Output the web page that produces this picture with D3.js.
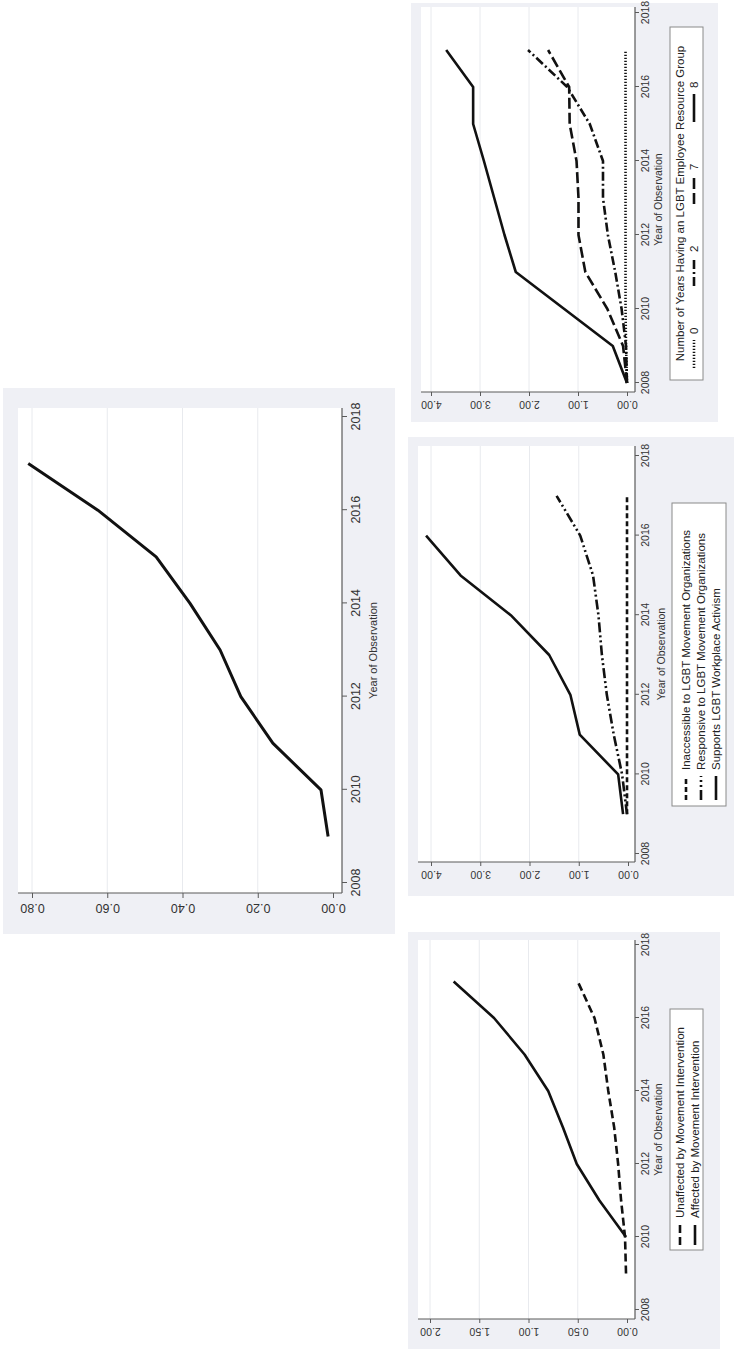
<!DOCTYPE html>
<html>
<head>
<meta charset="utf-8">
<script src="https://cdn.jsdelivr.net/npm/d3@7"></script>
<style>
  html, body { margin: 0; padding: 0; background: #ffffff; }
  svg { display: block; }
</style>
</head>
<body>
<svg id="chart" width="736" height="1354"></svg>
<script>
// ---- data ---------------------------------------------------------------
const yearTicks = [2008, 2010, 2012, 2014, 2016, 2018];

// Panel A: single trend
const yearsA = [2009, 2010, 2011, 2012, 2013, 2014, 2015, 2016, 2017];
const shareA = [0.013, 0.032, 0.16, 0.245, 0.30, 0.38, 0.47, 0.625, 0.81];
const ticksA = [0, 0.2, 0.4, 0.6, 0.8];

// Panel B: years having an LGBT employee resource group
const yearsB = [2008, 2009, 2010, 2011, 2012, 2013, 2014, 2015, 2016, 2017];
const ergTitle = "Number of Years Having an LGBT Employee Resource Group";
const ergLabels = ["0", "2", "7", "8"];
const erg0 = [0, 0.02, 0.03, 0.03, 0.03, 0.03, 0.03, 0.03, 0.03, 0.03];
const erg2 = [0, 0.02, 0.11, 0.24, 0.39, 0.49, 0.49, 0.76, 1.22, 2.02];
const erg7 = [0, 0.08, 0.40, 0.85, 0.99, 0.99, 1.03, 1.17, 1.18, 1.61];
const erg8 = [0, 0.29, 1.28, 2.27, 2.50, 2.71, 2.92, 3.14, 3.14, 3.69];
const ticksB = [0, 1, 2, 3, 4];

// Panel C: relation to LGBT movement organizations
const yearsC = [2009, 2010, 2011, 2012, 2013, 2014, 2015, 2016, 2017];
const orgLabels = [
  "Inaccessible to LGBT Movement Organizations",
  "Responsive to LGBT Movement Organizations",
  "Supports LGBT Workplace Activism"
];
const inaccessible = [0.02, 0.02, 0.02, 0.02, 0.02, 0.02, 0.02, 0.02, 0.02];
const responsive = [0.02, 0.12, 0.29, 0.43, 0.53, 0.60, 0.71, 0.97, 1.45];
const supportsYears = [2009, 2010, 2011, 2012, 2013, 2014, 2015, 2016];
const supports = [0.10, 0.20, 0.98, 1.17, 1.60, 2.38, 3.40, 4.10];
const ticksC = [0, 1, 2, 3, 4];

// Panel D: movement intervention
const yearsD = [2009, 2010, 2011, 2012, 2013, 2014, 2015, 2016, 2017];
const interventionLabels = [
  "Unaffected by Movement Intervention",
  "Affected by Movement Intervention"
];
const unaffected = [0.01, 0.02, 0.06, 0.09, 0.13, 0.19, 0.24, 0.33, 0.50];
const affectedYears = [2010, 2011, 2012, 2013, 2014, 2015, 2016, 2017];
const affected = [0.01, 0.28, 0.51, 0.65, 0.80, 1.04, 1.35, 1.76];
const ticksD = [0, 0.5, 1, 1.5, 2];

// ---- drawing ------------------------------------------------------------
const FONT = "'Liberation Sans', Arial, sans-serif";
const BG = "#eff0f5";
const AXIS = "#5a5a5a";
const GRID = "#e8eaee";
const TXT = "#333333";
const INK = "#111111";

const svg = d3.select("#chart");

// Each panel is drawn in its upright frame (years left→right, values bottom→top)
// and the frame is turned a quarter turn counter-clockwise onto the page.
function drawPanel(p) {
  const W = p.y1 - p.y0;         // upright width  (page height of the panel)
  const H = p.x1 - p.x0;         // upright height (page width of the panel)
  const g = svg.append("g")
    .attr("transform", `translate(${p.x0},${p.y1}) rotate(-90)`)
    .attr("font-family", FONT);

  g.append("rect").attr("width", W).attr("height", H).attr("fill", BG);

  const [u0, u1, v0, v1] = p.plot;
  g.append("rect")
    .attr("x", u0).attr("y", v0)
    .attr("width", u1 - u0).attr("height", v1 - v0)
    .attr("fill", "#ffffff");

  const x = d3.scaleLinear().domain([2008, 2018]).range(p.xr);
  const y = d3.scaleLinear().domain([0, p.yTicks[p.yTicks.length - 1]]).range(p.yr);

  // horizontal grid at the value ticks
  g.append("g").selectAll("line").data(p.yTicks.slice(1)).join("line")
    .attr("x1", u0).attr("x2", u1)
    .attr("y1", d => y(d)).attr("y2", d => y(d))
    .attr("stroke", GRID).attr("stroke-width", 1);

  // year axis
  const gx = g.append("g").attr("transform", `translate(0,${v1})`)
    .call(d3.axisBottom(x).tickValues(yearTicks).tickFormat(d3.format("d"))
      .tickSize(p.tick).tickSizeOuter(0).tickPadding(p.padX));
  gx.attr("font-family", FONT).attr("font-size", p.fs);
  gx.select(".domain").remove();
  gx.append("line").attr("x1", u0).attr("x2", u1).attr("stroke", AXIS).attr("stroke-width", 1.2);
  gx.selectAll(".tick line").attr("stroke", AXIS);
  gx.selectAll(".tick text").attr("fill", TXT);

  // value axis, labels standing vertically
  const gy = g.append("g").attr("transform", `translate(${u0},0)`)
    .call(d3.axisLeft(y).tickValues(p.yTicks).tickFormat(d3.format(".2f"))
      .tickSize(p.tick).tickSizeOuter(0));
  gy.attr("font-family", FONT).attr("font-size", p.fs);
  gy.select(".domain").remove();
  gy.append("line").attr("y1", v0).attr("y2", v1).attr("stroke", AXIS).attr("stroke-width", 1.2);
  gy.selectAll(".tick line").attr("stroke", AXIS);
  gy.selectAll(".tick text")
    .attr("x", 0).attr("dy", "0")
    .attr("text-anchor", "middle")
    .attr("fill", TXT)
    .attr("transform", `translate(${-(p.tick + p.padY)},0) rotate(-90)`);

  // axis title
  g.append("text")
    .attr("x", p.titleU !== undefined ? p.titleU : (u0 + u1) / 2).attr("y", p.titleV)
    .attr("dy", "0.35em").attr("text-anchor", "middle")
    .attr("font-size", p.titleFs || p.fs).attr("fill", TXT)
    .text("Year of Observation");

  // series
  const line = d3.line().x(d => x(d[0])).y(d => y(d[1]));
  p.series.forEach(s => {
    g.append("path")
      .datum(s.years.map((yr, i) => [yr, s.values[i]]))
      .attr("d", line)
      .attr("fill", "none")
      .attr("stroke", INK)
      .attr("stroke-width", p.lw)
      .attr("stroke-linejoin", "round")
      .attr("stroke-dasharray", s.dash || null);
  });

  // legend
  if (p.legend) {
    const L = p.legend;
    const lg = g.append("g");
    lg.append("rect")
      .attr("x", L.box[0]).attr("y", L.box[2])
      .attr("width", L.box[1] - L.box[0]).attr("height", L.box[3] - L.box[2])
      .attr("fill", "#ffffff").attr("stroke", "#8a8a8a").attr("stroke-width", 1);
    if (L.title) {
      lg.append("text")
        .attr("x", (L.box[0] + L.box[1]) / 2).attr("y", L.title.v)
        .attr("dy", "0.35em").attr("text-anchor", "middle")
        .attr("font-size", L.fs).attr("fill", "#222")
        .text(L.title.text);
    }
    L.items.forEach(it => {
      const s = p.series[it.k];
      lg.append("line")
        .attr("x1", it.u).attr("x2", it.u + L.keyLen)
        .attr("y1", it.v).attr("y2", it.v)
        .attr("stroke", INK).attr("stroke-width", p.lw)
        .attr("stroke-dasharray", s.dash || null);
      lg.append("text")
        .attr("x", it.u + L.keyLen + L.gap).attr("y", it.v)
        .attr("dy", "0.35em")
        .attr("font-size", L.fs).attr("fill", "#222")
        .text(s.label);
    });
  }
}

// Panel A
drawPanel({
  x0: 3, x1: 395, y0: 388, y1: 934,
  plot: [41, 526, 15, 339],
  xr: [51, 517], yr: [330, 29],
  yTicks: ticksA, fs: 12.5, tick: 5, padX: 4, padY: 6,
  titleV: 370, titleFs: 11, lw: 3,
  series: [{ years: yearsA, values: shareA }]
});

// Panel B
drawPanel({
  x0: 411, x1: 718, y0: 3, y1: 422,
  plot: [30, 415, 10, 224],
  xr: [39, 409], yr: [216, 20],
  yTicks: ticksB, fs: 10.5, tick: 4, padX: 3, padY: 5,
  titleV: 247, lw: 2.6,
  series: [
    { years: yearsB, values: erg0, label: ergLabels[0], dash: "1.3,1.7" },
    { years: yearsB, values: erg2, label: ergLabels[1], dash: "9,3,2,3" },
    { years: yearsB, values: erg7, label: ergLabels[2], dash: "11,4" },
    { years: yearsB, values: erg8, label: ergLabels[3] }
  ],
  legend: {
    box: [42, 395, 259, 292], fs: 11.5, keyLen: 28, gap: 6,
    title: { v: 269, text: ergTitle },
    items: ergLabels.map((_, i) => ({ k: i, u: 54 + i * 82, v: 283 }))
  }
});

// Panel C
drawPanel({
  x0: 408, x1: 734, y0: 437, y1: 896,
  plot: [34, 450, 10, 227],
  xr: [42, 440], yr: [220, 23],
  yTicks: ticksC, fs: 10.5, tick: 4, padX: 3, padY: 5,
  titleV: 253, lw: 2.6,
  series: [
    { years: yearsC, values: inaccessible, label: orgLabels[0], dash: "5,3" },
    { years: yearsC, values: responsive, label: orgLabels[1], dash: "10,3,2,3,2,3" },
    { years: supportsYears, values: supports, label: orgLabels[2] }
  ],
  legend: {
    box: [90, 393, 264, 318], fs: 11.5, keyLen: 24, gap: 6,
    items: orgLabels.map((_, i) => ({ k: i, u: 96, v: 278 + i * 15 }))
  }
});

// Panel D
drawPanel({
  x0: 408, x1: 720, y0: 932, y1: 1349,
  plot: [30, 409, 10, 227],
  xr: [39, 404], yr: [219, 22],
  yTicks: ticksD, fs: 10.5, tick: 4, padX: 3, padY: 5,
  titleV: 250, lw: 2.6,
  series: [
    { years: yearsD, values: unaffected, label: interventionLabels[0], dash: "8,4" },
    { years: affectedYears, values: affected, label: interventionLabels[1] }
  ],
  legend: {
    box: [99, 340, 262, 295], fs: 11.5, keyLen: 20, gap: 7,
    items: interventionLabels.map((_, i) => ({ k: i, u: 104, v: 272 + i * 15 }))
  }
});
</script>
</body>
</html>
